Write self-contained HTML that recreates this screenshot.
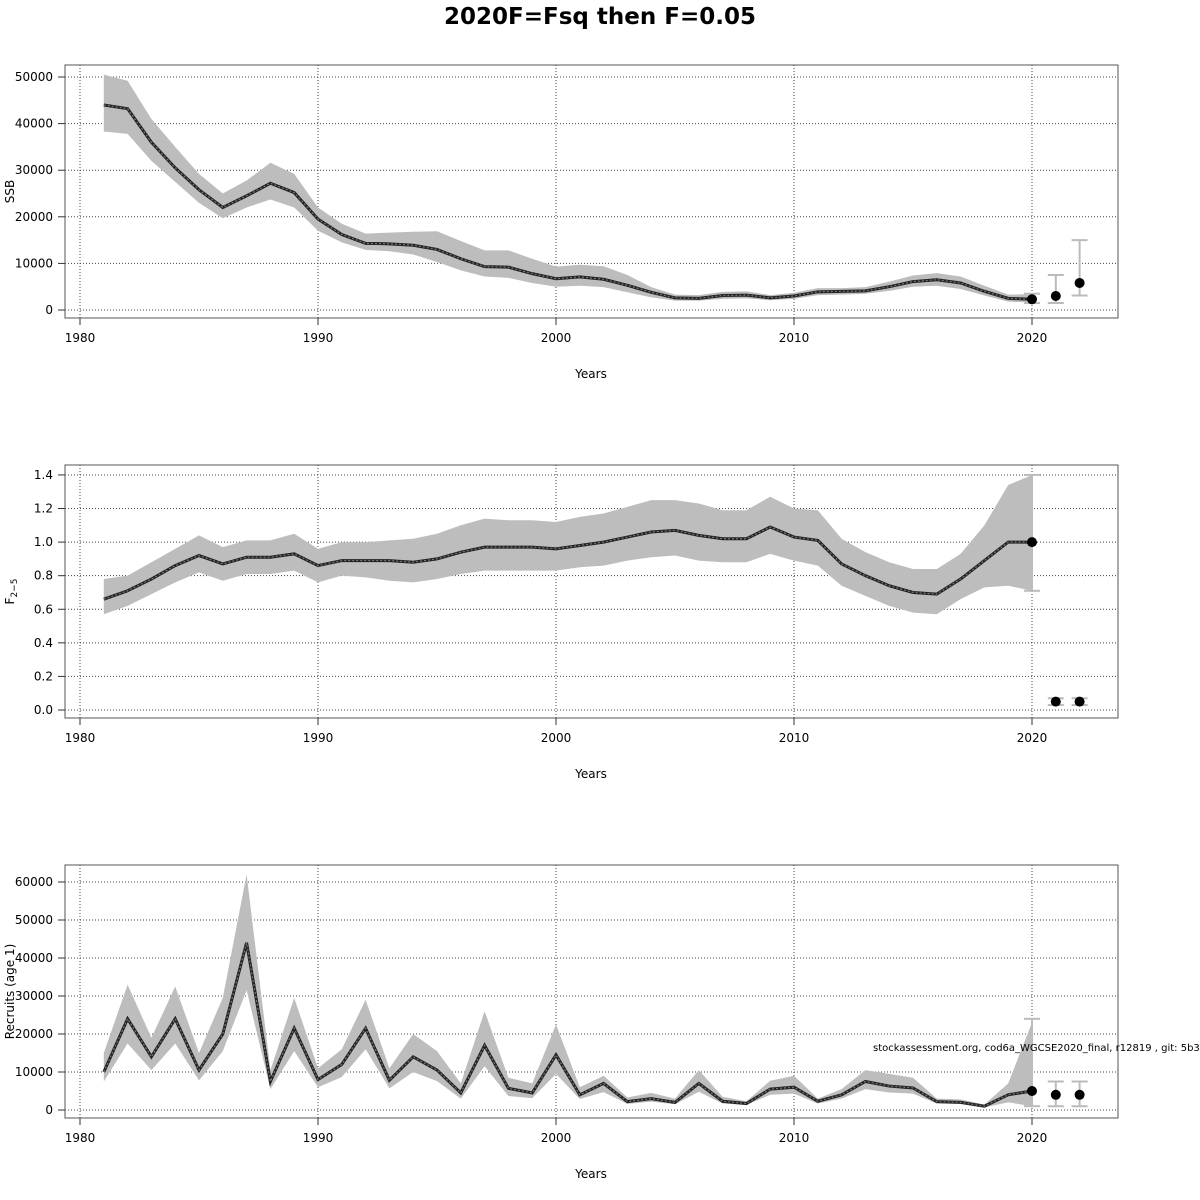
<!DOCTYPE html>
<html><head><meta charset="utf-8"><style>
body{margin:0;background:#fff}
svg{display:block;font-family:"DejaVu Sans","Liberation Sans",sans-serif}
</style></head><body>
<svg id="c" width="1200" height="1200" viewBox="0 0 1200 1200">
<text x="600" y="24" text-anchor="middle" font-size="23" font-weight="bold">2020F=Fsq then F=0.05</text>
</svg>
<script>
const years=[];for(let y=1981;y<=2020;y++)years.push(y);
const ssb=[44000,43200,36000,30500,25800,22000,24500,27200,25200,19500,16200,14300,14200,13900,13000,11000,9300,9200,7800,6700,7100,6600,5300,3800,2600,2500,3100,3200,2600,3000,3900,4000,4100,5000,6100,6500,5800,4000,2500,2300];
const ssbLo=[38300,37800,32000,27500,23000,19700,22000,23700,22000,17000,14500,12900,12600,11900,10300,8500,7200,6900,5800,5000,5200,4900,3800,2700,2000,2000,2400,2500,2100,2400,3200,3300,3500,4100,5000,5200,4500,3100,1800,1600];
const ssbHi=[50500,49200,41000,35000,29200,25000,27800,31600,29200,22000,18500,16400,16600,16800,16900,14800,12800,12800,11000,9300,9700,9400,7500,4900,3300,3200,3900,4000,3200,3700,4700,4700,4900,6100,7400,7900,7200,5200,3300,3400];
const fbar=[.66,.71,.78,.86,.92,.87,.91,.91,.93,.86,.89,.89,.89,.88,.90,.94,.97,.97,.97,.96,.98,1.00,1.03,1.06,1.07,1.04,1.02,1.02,1.09,1.03,1.01,.87,.80,.74,.70,.69,.78,.89,1.00,1.00];
const fLo=[.57,.62,.69,.76,.82,.77,.81,.81,.83,.76,.80,.79,.77,.76,.78,.81,.83,.83,.83,.83,.85,.86,.89,.91,.92,.89,.88,.88,.93,.89,.86,.74,.68,.62,.58,.57,.66,.73,.74,.71];
const fHi=[.78,.80,.88,.96,1.04,.97,1.01,1.01,1.05,.96,1.00,1.00,1.01,1.02,1.05,1.10,1.14,1.13,1.13,1.12,1.15,1.17,1.21,1.25,1.25,1.23,1.19,1.19,1.27,1.20,1.19,1.02,.94,.88,.84,.84,.93,1.10,1.34,1.40];
const rec=[10000,24000,14000,24000,10500,20000,44000,7500,21500,8000,12000,21500,7800,14000,10500,4500,17000,5700,4500,14500,4000,7000,2200,3000,2000,7000,2300,1700,5500,6000,2300,4000,7500,6300,5800,2200,2000,1000,4000,5000];
const recLo=[7500,17500,10500,17500,7800,15500,31500,5500,15500,6000,8700,16000,5700,10000,7600,3000,11500,3700,3100,9500,2900,4700,1600,2200,1500,4800,1700,1300,4000,4300,1700,3000,5500,4600,4300,1700,1600,700,2000,1000];
const recHi=[15000,33000,19000,32500,15000,29500,62000,10500,29500,11000,16000,29000,11000,20000,15500,7000,26000,8500,7000,22500,6000,9000,3300,4500,3000,10500,3500,2300,7700,9000,3000,5500,10500,9500,8500,3000,2800,1400,7000,23000];
const projYears=[2020,2021,2022];
const ssbProj=[2300,3000,5800],ssbProjLo=[1500,1500,3100],ssbProjHi=[3500,7500,15000];
const fProj=[1.0,0.05,0.05],fProjLo=[0.71,0.03,0.03],fProjHi=[1.4,0.07,0.07];
const recProj=[5000,4000,4000],recProjLo=[1000,1000,1000],recProjHi=[24000,7500,7500];
const xTicks=[1980,1990,2000,2010,2020];
const ssbTicks=[0,10000,20000,30000,40000,50000];
const fTicks=[0,0.2,0.4,0.6,0.8,1.0,1.2,1.4];
const recTicks=[0,10000,20000,30000,40000,50000,60000];

const svg=document.getElementById('c');const NS='http://www.w3.org/2000/svg';
function mk(t,a,p){const e=document.createElementNS(NS,t);for(const k in a)e.setAttribute(k,a[k]);(p||svg).appendChild(e);return e;}
const X=y=>80+(y-1980)*23.8;
function panel(name,top,y0,yPer,ticks,fmt,ylab,m,lo,hi,pm,plo,phi){
  const g=mk('g',{});
  
  
  const Y=v=>y0-v*yPer;
  const L=65,R=1118,T=top,B=top+253;
  xTicks.forEach(t=>{mk('line',{x1:X(t),x2:X(t),y1:T,y2:B,stroke:'#444','stroke-dasharray':'1,2','stroke-width':1},g);
    mk('line',{x1:X(t),x2:X(t),y1:B,y2:B+7,stroke:'#333'},g);
    const tx=mk('text',{x:X(t),y:B+24,'text-anchor':'middle','font-size':12},g);tx.textContent=t;});
  ticks.forEach(t=>{mk('line',{x1:L,x2:R,y1:Y(t),y2:Y(t),stroke:'#444','stroke-dasharray':'1,2','stroke-width':1},g);
    mk('line',{x1:L-7,x2:L,y1:Y(t),y2:Y(t),stroke:'#333'},g);
    const tx=mk('text',{x:L-12,y:Y(t)+4,'text-anchor':'end','font-size':12},g);tx.textContent=fmt(t);});
  let d='M'+years.map((y,i)=>X(y)+','+Y(hi[i])).join('L');
  for(let i=years.length-1;i>=0;i--)d+='L'+X(years[i])+','+Y(lo[i]);
  const band=mk('path',{d:d+'Z',fill:'#bdbdbd'},g);
  
  
  const pts=years.map((y,i)=>X(y)+','+Y(m[i])).join(' ');
  mk('polyline',{points:pts,fill:'none',stroke:'#222','stroke-width':3},g);
  const ln=mk('polyline',{points:pts,fill:'none',stroke:'#777','stroke-width':1.2,'stroke-dasharray':'2,2'},g);
  
  
  projYears.forEach((y,i)=>{const x=X(y);
    mk('line',{x1:x,x2:x,y1:Y(plo[i]),y2:Y(phi[i]),stroke:'#bbb','stroke-width':2},g);
    mk('line',{x1:x-8,x2:x+8,y1:Y(plo[i]),y2:Y(plo[i]),stroke:'#bbb','stroke-width':2},g);
    mk('line',{x1:x-8,x2:x+8,y1:Y(phi[i]),y2:Y(phi[i]),stroke:'#bbb','stroke-width':2},g);
    const c=mk('circle',{cx:x,cy:Y(pm[i]),r:5,fill:'#000'},g);
    
    });
  mk('rect',{x:L,y:T,width:R-L,height:B-T,fill:'none',stroke:'#555','stroke-width':1},g);
  const xl=mk('text',{x:591,y:B+60,'text-anchor':'middle','font-size':12},g);xl.textContent='Years';
  
  
  const yl=mk('text',{x:0,y:0,'text-anchor':'middle','font-size':12,transform:`translate(14,${(T+B)/2}) rotate(-90)`},g);
  yl.innerHTML=ylab;
  
  
}
panel('ssb',65,310,4.66/1000,ssbTicks,t=>t,'SSB',ssb,ssbLo,ssbHi,ssbProj,ssbProjLo,ssbProjHi);
panel('fbar',465,710,167.9,fTicks,t=>t.toFixed(1),'F<tspan font-size="9" dy="3">2−5</tspan>',fbar,fLo,fHi,fProj,fProjLo,fProjHi);
panel('recruits',865,1110,3.8/1000,recTicks,t=>t,'Recruits (age 1)',rec,recLo,recHi,recProj,recProjLo,recProjHi);
const ft=mk('text',{x:873,y:1051,'font-size':10});
ft.textContent='stockassessment.org, cod6a_WGCSE2020_final, r12819 , git: 5b334';


</script>
</body></html>
